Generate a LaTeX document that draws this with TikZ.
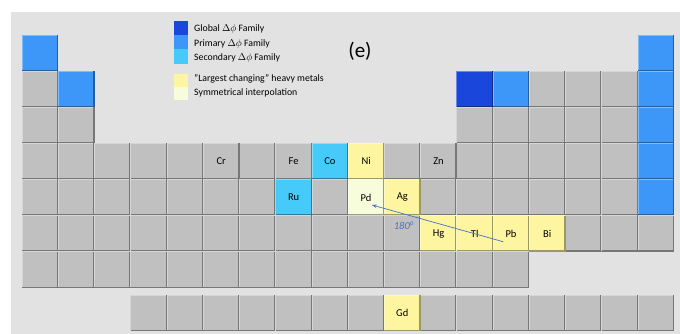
\documentclass[tikz,border=0pt]{standalone}
\usepackage{fontspec}
\setmainfont{Carlito}
\usetikzlibrary{arrows.meta}
\definecolor{bg}{HTML}{E2E2E2}
\definecolor{cellgray}{HTML}{C0C0C0}
\definecolor{globalblue}{HTML}{1A46DC}
\definecolor{primblue}{HTML}{3C97F8}
\definecolor{secblue}{HTML}{45CAFA}
\definecolor{heavy}{HTML}{FEF5A0}
\definecolor{interp}{HTML}{F7FCDA}
\definecolor{arrowblue}{HTML}{4472C4}
\tikzset{
  cellbox/.style={rectangle, minimum width=36.22pt, minimum height=36.1pt, inner sep=0pt,
    font=\fontsize{10.5}{12}\selectfont, text=black},
  legbox/.style={rectangle, minimum width=14pt, inner sep=0pt},
  legtext/.style={anchor=west, inner sep=0pt, font=\fontsize{9.8}{11}\selectfont},
  pointer/.style={arrowblue, line width=0.7pt, -{Stealth[length=5pt,width=3.5pt]}},
}
\newcommand\pcell[4]{%
  \ifnum#2=8 \def\cy{313}\else\pgfmathsetmacro\cy{35+(#2-0.5)*36.1}\fi
  \node[cellbox, fill=#3] (e-#1-#2) at ({22+(#1-0.5)*36.22},\cy) {#4};
  \draw[white!35!#3, line width=1pt]
    ([xshift=0.5pt,yshift=0.5pt]e-#1-#2.south west) -- ([xshift=0.5pt,yshift=-0.5pt]e-#1-#2.north west)
    -- ([xshift=-0.5pt,yshift=-0.5pt]e-#1-#2.north east);
  \draw[#3!62!black, line width=1.4pt]
    ([xshift=-0.7pt,yshift=-0.2pt]e-#1-#2.north east) -- ([xshift=-0.7pt,yshift=0.7pt]e-#1-#2.south east)
    -- ([xshift=0.2pt,yshift=0.7pt]e-#1-#2.south west);
}
\begin{document}
\begin{tikzpicture}[x=1pt,y=-1pt]
\useasboundingbox (0,0) rectangle (680,334);
\fill[white] (0,0) rectangle (680,334);
\fill[bg] (11,12) rectangle (680,334);
% row 1
\pcell{1}{1}{primblue}{}
\pcell{18}{1}{primblue}{}
% row 2
\pcell{1}{2}{cellgray}{}
\pcell{2}{2}{primblue}{}
\pcell{13}{2}{globalblue}{}
\pcell{14}{2}{primblue}{}
\foreach \c in {15,16,17} {\pcell{\c}{2}{cellgray}{}}
\pcell{18}{2}{primblue}{}
% row 3
\foreach \c in {1,2,13,14,15,16,17} {\pcell{\c}{3}{cellgray}{}}
\pcell{18}{3}{primblue}{}
% row 4
\foreach \c in {1,2,3,4,5,7,11,13,14,15,16,17} {\pcell{\c}{4}{cellgray}{}}
\pcell{6}{4}{cellgray}{Cr}
\pcell{8}{4}{cellgray}{Fe}
\pcell{9}{4}{secblue}{Co}
\pcell{10}{4}{heavy}{Ni}
\pcell{12}{4}{cellgray}{Zn}
\pcell{18}{4}{primblue}{}
% row 5
\foreach \c in {1,2,3,4,5,6,7,9,12,13,14,15,16,17} {\pcell{\c}{5}{cellgray}{}}
\pcell{8}{5}{secblue}{Ru}
\pcell{10}{5}{interp}{Pd}
\pcell{11}{5}{heavy}{Ag}
\pcell{18}{5}{primblue}{}
% row 6
\foreach \c in {1,...,11,16,17,18} {\pcell{\c}{6}{cellgray}{}}
\pcell{12}{6}{heavy}{Hg}
\pcell{13}{6}{heavy}{Tl}
\pcell{14}{6}{heavy}{Pb}
\pcell{15}{6}{heavy}{Bi}
% row 7
\foreach \c in {1,...,14} {\pcell{\c}{7}{cellgray}{}}
% lanthanides
\foreach \c in {4,...,10,12,13,14,15,16,17,18} {\pcell{\c}{8}{cellgray}{}}
\pcell{11}{8}{heavy}{Gd}
% legend
\node[legbox, fill=globalblue, minimum height=14.4pt] (lg1) at (181,27.8) {};
\node[legbox, fill=primblue, minimum height=14.4pt] (lg2) at (181,42.2) {};
\node[legbox, fill=secblue, minimum height=14.4pt] (lg3) at (181,56.6) {};
\node[legbox, fill=heavy, minimum height=13pt] (lg4) at (181,80.2) {};
\node[legbox, fill=interp, minimum height=13pt] (lg5) at (181,93.4) {};
\node[legtext] (lt1) at (194,29) {Global $\Delta\phi$ Family};
\node[legtext] (lt2) at (194,43.6) {Primary $\Delta\phi$ Family};
\node[legtext] (lt3) at (194,57.6) {Secondary $\Delta\phi$ Family};
\node[legtext] (lt4) at (194,79) {\symbol{34}Largest changing\symbol{34} heavy metals};
\node[legtext] (lt5) at (194,93) {Symmetrical interpolation};
% panel label
\node[font=\fontsize{21}{24}\selectfont] (lbl) at (360,51.5) {(e)};
% arrow and angle
\coordinate (as) at ([shift={(-7.7,8.2)}]e-14-6.center);
\coordinate (ae) at ([shift={(5.7,7.5)}]e-10-5.center);
\draw[pointer] (as) -- (ae);
\node[text=arrowblue, font=\fontsize{10.5}{12}\selectfont\itshape] (ang) at (404,226) {180\textsuperscript{o}};
\end{tikzpicture}
\end{document}
